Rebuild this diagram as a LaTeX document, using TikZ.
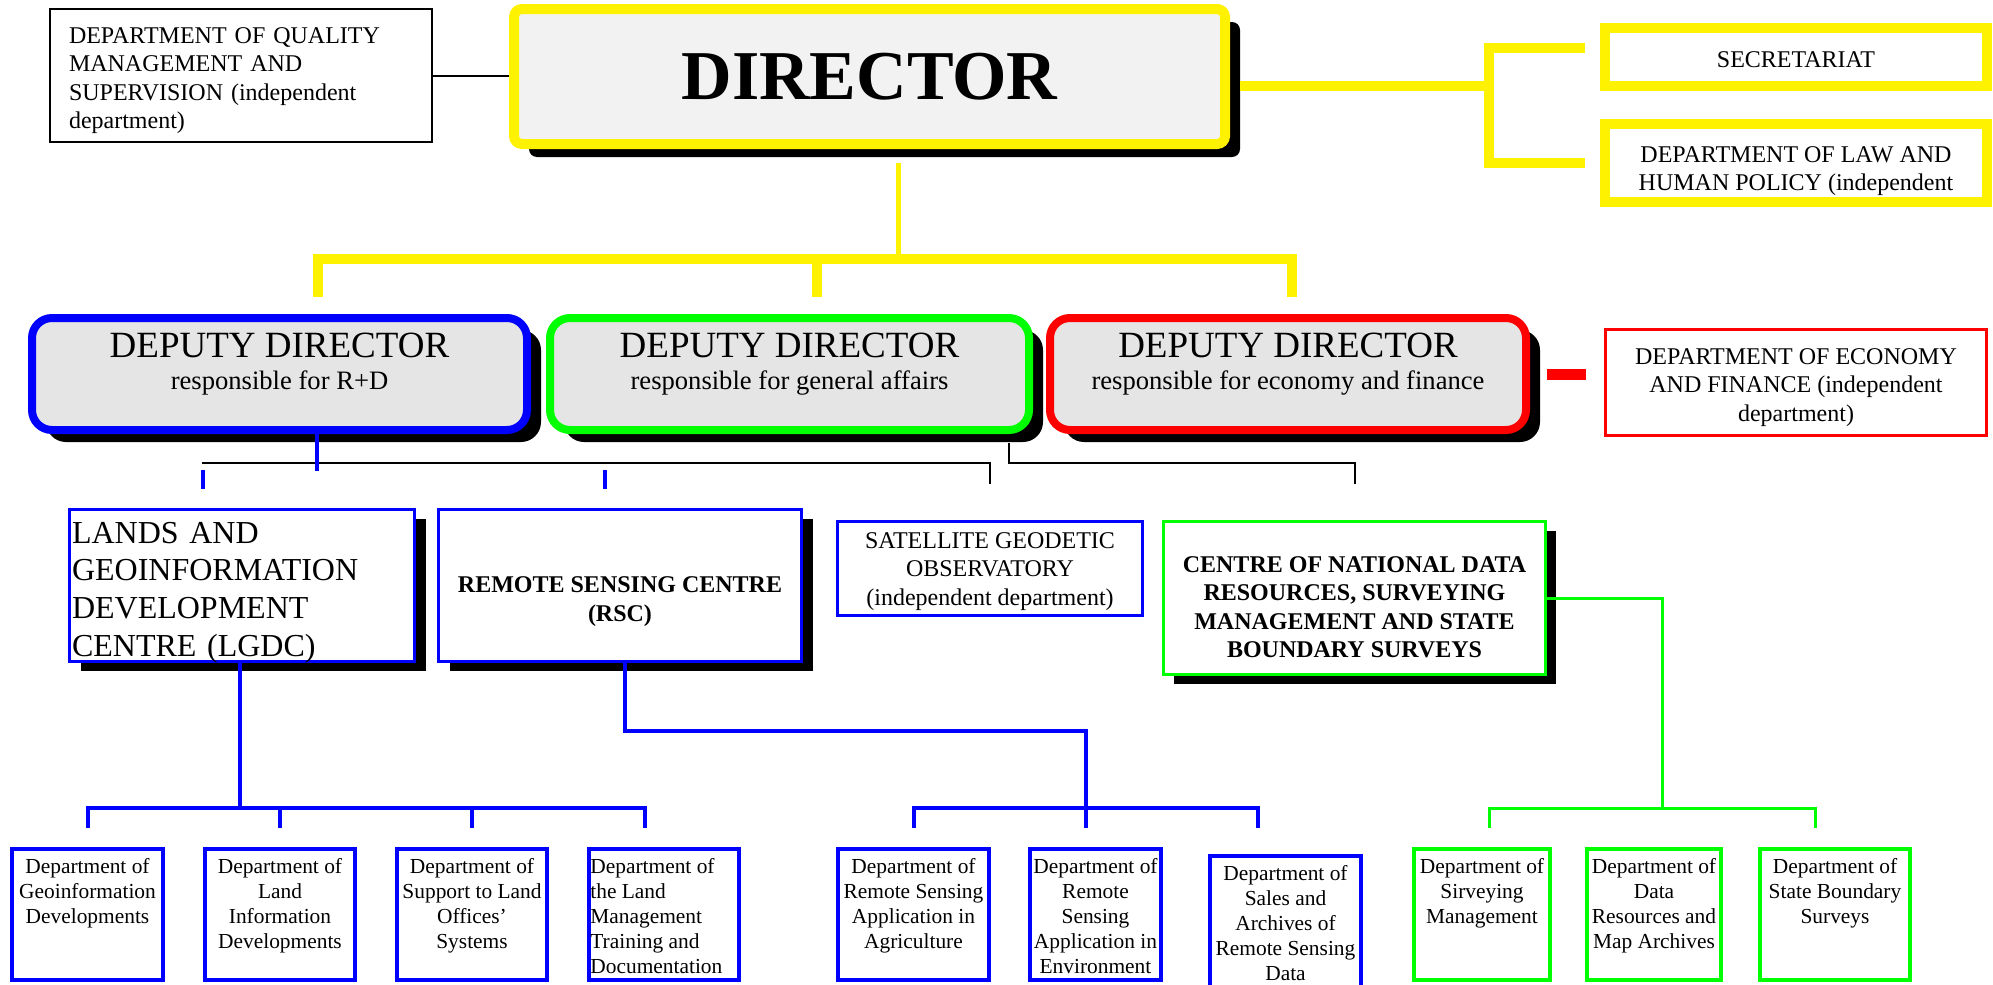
\documentclass[tikz,border=0pt]{standalone}
\usepackage{fontspec}
\setmainfont{Liberation Serif}
\usetikzlibrary{fit,shadows}

\begin{document}
\begin{tikzpicture}[x=0.5pt, y=-0.5pt,
    ybox/.style={draw=yellow, line width=5pt, inner sep=0pt},
    depbox/.style={draw=#1, line width=4pt, fill=black!10, rounded corners=10pt, inner sep=0pt,
        dropblack={7pt}{-6pt}},
    cbox/.style={draw=#1, line width=1.5pt, fill=white, inner sep=0pt},
    dbox/.style={draw=#1, line width=2pt, inner sep=0pt},
    dropblack/.style 2 args={drop shadow={shadow xshift=#1, shadow yshift=#2, fill=black, opacity=1}},
    yline/.style={yellow, line width=5pt},
    bline/.style={blue, line width=2pt},
    gline/.style={green, line width=1.5pt},
    kline/.style={black, line width=1pt},
    cap12/.style={font=\fontsize{12}{14.25}\selectfont, inner sep=0pt, align=center},
    bold12/.style={font=\fontsize{12}{14.25}\selectfont\bfseries, inner sep=0pt, align=center},
    dtitle/.style={font=\fontsize{18.5}{22}\selectfont, inner sep=0pt},
    dsub/.style={font=\fontsize{13.3}{16}\selectfont, inner sep=0pt},
    dtext/.style={font=\fontsize{10.7}{12.5}\selectfont, inner sep=0pt, align=center}
  ]
    % ===== Page =====
    \path[use as bounding box, fill=white] (0,0) rectangle (1993,985);

    % ===== Director and staff units =====
    \node[ybox, fill=black!5, rounded corners=4pt, dropblack={7.5pt}{-6.5pt},
        fit={(514,9) (1225,144)}] (dir) {};
    \node[font=\fontsize{35}{40}\selectfont\bfseries, inner sep=0pt] (dir-t) at (dir.center) {DIRECTOR};
    \node[draw, line width=1pt, inner sep=0pt, fit={(50,9) (432,142)}] (qm) {};
    \node[cap12, text width=172pt, align=left] (qm-t) at ([yshift=-2.5pt]qm.center)
        {DEPARTMENT OF QUALITY\\MANAGEMENT AND\\SUPERVISION (independent\\department)};
    \node[ybox, fit={(1605,28) (1987,86)}] (sec) {};
    \node[cap12] (sec-t) at ([yshift=-1.5pt]sec.center) {SECRETARIAT};
    \node[ybox, fit={(1605,124) (1987,202)}] (law) {};
    \node[cap12] (law-t) at ([yshift=-4pt]law.center)
        {DEPARTMENT OF LAW AND\\HUMAN POLICY (independent};

    % ===== Deputy directors =====
    \node[depbox=blue, fit={(32,318) (527,430)}] (dpb) {};
    \node[depbox=green, fit={(550,318) (1029,430)}] (dpg) {};
    \node[depbox=red, fit={(1050,318) (1526,430)}] (dpr) {};
    \foreach \n/\txt in {dpb/R+D, dpg/general affairs, dpr/economy and finance} {
        \node[dtitle] (\n-t) at ([yshift=-15.5pt]\n.north) {DEPUTY DIRECTOR};
        \node[dsub] (\n-s) at ([yshift=-34.5pt]\n.north) {responsible for \txt};
    }
    \node[cbox=red, fit={(1605.5,329.5) (1986.5,435.5)}] (econ) {};
    \node[cap12] (econ-t) at ([yshift=-2.5pt]econ.center)
        {DEPARTMENT OF ECONOMY\\AND FINANCE (independent\\department)};

    % ===== Centres =====
    \node[cbox=blue, dropblack={5.5pt}{-4.75pt}, fit={(69.5,509.5) (414.5,661.5)}] (lgdc) {};
    \node[inner sep=0pt, text width=170pt, align=left, font=\fontsize{16}{18.8}\selectfont] (lgdc-t)
        at ([yshift=-3.5pt]lgdc.center) {LANDS AND\\GEOINFORMATION\\DEVELOPMENT\\CENTRE (LGDC)};
    \node[cbox=blue, dropblack={5.5pt}{-4.75pt}, fit={(438.5,509.5) (801.5,661.5)}] (rsc) {};
    \node[bold12] (rsc-t) at ([yshift=-8pt]rsc.center) {REMOTE SENSING CENTRE\\(RSC)};
    \node[cbox=blue, fit={(837.5,521.5) (1142.5,615.5)}] (sgo) {};
    \node[cap12] (sgo-t) at ([yshift=-1.5pt]sgo.center) {SATELLITE GEODETIC\\OBSERVATORY\\(independent department)};
    \node[cbox=green, dropblack={5pt}{-4.5pt}, fit={(1163.5,521.5) (1545.5,674.5)}] (cndr) {};
    \node[bold12] (cndr-t) at ([yshift=-4.5pt]cndr.center)
        {CENTRE OF NATIONAL DATA\\RESOURCES, SURVEYING\\MANAGEMENT AND STATE\\BOUNDARY SURVEYS};

    % ===== Departments =====
    \foreach \n/\xa/\xb/\c in {b1/12/163/blue, b2/205/355/blue, b3/397/547/blue, b4/589/739/blue,
        r1/838/989/blue, r2/1030/1161/blue, g1/1414/1550/green, g2/1587/1721/green, g3/1760/1910/green}
        \node[dbox=\c, fit={(\xa,849) (\xb,980)}] (\n) {};
    \node[dbox=blue, fit={(1210,856) (1361,1000)}] (r3) {};
    \foreach \n/\txt in {b1/{Department of\\Geoinformation\\Developments},
        b2/{Department of\\Land\\Information\\Developments},
        b3/{Department of\\Support to Land\\Offices’\\Systems},
        r1/{Department of\\Remote Sensing\\Application in\\Agriculture},
        r2/{Department of\\Remote\\Sensing\\Application in\\Environment},
        r3/{Department of\\Sales and\\Archives of\\Remote Sensing\\Data},
        g1/{Department of\\Sirveying\\Management},
        g2/{Department of\\Data\\Resources and\\Map Archives},
        g3/{Department of\\State Boundary\\Surveys}}
        \node[dtext, anchor=north] (\n-t) at ([yshift=-5.5pt]\n.north) {\txt};
    \node[dtext, align=left, anchor=north west] (b4-t) at ([xshift=1.5pt, yshift=-5.5pt]b4.north west)
        {Department of\\the Land\\Management\\Training and\\Documentation};

    % ===== Yellow links =====
    \coordinate (jr) at (1489,86);
    \draw[yline, shorten <=5pt] (dir.east |- jr) -- (jr);
    \draw[yline] ([xshift=-7.5pt, yshift=4.75pt]sec.west) -| (jr) |- ([xshift=-7.5pt]law.west);
    \coordinate (jd) at (898,259);
    \draw[yline, line width=2.5pt, shorten <=7pt] (dir.south -| jd) -- (jd);
    \coordinate (tb) at (318,259);
    \coordinate (tg) at (817,259);
    \coordinate (tr) at (1292,259);
    \draw[yline, shorten <=8.5pt, shorten >=8.5pt] (tb |- dpb.north) -- (tb) -- (tr) -- (tr |- dpr.north);
    \draw[yline, shorten >=8.5pt] (tg) -- (tg |- dpg.north);

    % ===== Thin links =====
    \draw[kline] (qm.east) -- (qm.east -| dir.west);
    \draw[red, line width=5.5pt, shorten <=8.5pt, shorten >=9pt] (dpr.east) -- (dpr.east -| econ.west);
    \coordinate (k1) at (202,463);
    \draw[kline, shorten >=18pt] (k1) -| (sgo.north);
    \coordinate (k2) at (1009,443);
    \draw[kline, shorten >=18pt] (k2) -- ++(0,20) -| (cndr.north);
    \coordinate (bs) at (317,471);
    \draw[bline] (dpb.south -| bs) -- (bs);
    \coordinate (t1) at (203,470);
    \coordinate (t2) at (605,470);
    \draw[bline, shorten >=9.5pt] (t1) -- (t1 |- lgdc.north);
    \draw[bline, shorten >=9.5pt] (t2) -- (t2 |- rsc.north);

    % ===== Centre to department links =====
    \coordinate (lj) at (240,808);
    \draw[bline] (lgdc.south -| lj) -- (lj);
    \foreach \n/\dx in {b1/0pt, b2/0pt, b3/0pt, b4/-9.5pt}
        \draw[bline, shorten >=9.5pt] (lj) -| ([xshift=\dx]\n.north);
    \coordinate (rj) at (1085,808);
    \draw[bline, shorten >=9.5pt] ([xshift=2.5pt]rsc.south) -- ++(0,68) -| ([xshift=-5pt]r2.north);
    \draw[bline, shorten >=9.5pt] (rj) -| (r1.north);
    \draw[bline, shorten >=13pt] (rj) -| ([xshift=-13.75pt]r3.north);
    \coordinate (gj) at (1662,808);
    \draw[gline] (cndr.east) -| (gj);
    \draw[gline, shorten >=9.5pt] (gj) -| ([xshift=3.5pt]g1.north);
    \draw[gline, shorten >=9.5pt] (gj) -| ([xshift=-10pt]g3.north);
\end{tikzpicture}
\end{document}
